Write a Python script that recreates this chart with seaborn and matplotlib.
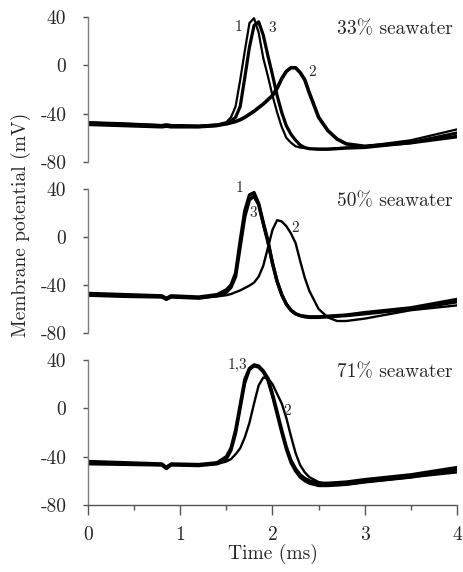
import numpy as np
import pandas as pd
import matplotlib
matplotlib.use("Agg")
import matplotlib.pyplot as plt
import seaborn as sns

# --- data: membrane potential traces (ms, mV) ---
time_ms = [0, 0.4, 0.8, 0.85, 0.9, 1.2, 1.4, 1.5, 1.55, 1.6, 1.65, 1.7, 1.75, 1.8,
           1.85, 1.9, 1.95, 2.0, 2.05, 2.1, 2.15, 2.2, 2.25, 2.3, 2.35, 2.4, 2.5,
           2.6, 2.7, 2.8, 3.0, 3.5, 4.0]

sw33_t1 = [-47, -48, -49.5, -49, -49.5, -50, -49, -47, -43, -34, -12, 12, 35, 39,
           27, 6, -9, -25, -39, -51, -60, -64, -67, -68, -68.5, -69, -69, -69,
           -68.5, -68, -67, -62, -53]
sw33_t2 = [-48, -49, -50, -49.5, -50, -50.5, -49.5, -48.5, -47.5, -46.5, -45, -43,
           -40.5, -38, -35, -32, -28.5, -25, -19, -11, -5, -2, -2, -6, -12, -23,
           -43, -54, -61, -65, -67, -64, -59]
sw33_t3 = [-49, -50, -51, -50.5, -51, -51, -50, -48, -46, -43, -34, -10, 15, 33,
           36, 25, 8, -8, -25, -39, -50, -57, -62, -66, -68, -69, -69.5, -69.5,
           -69, -68.5, -68, -64, -56]

sw50_t1 = [-47, -48, -49, -51, -49, -50, -48, -44, -40, -30, -3, 22, 35, 37, 28,
           12, -3, -22, -37, -48, -56, -61, -64, -65.5, -66, -66.5, -66.5, -66,
           -65.5, -65, -63, -59, -52]
sw50_t2 = [-48, -49, -50, -51.5, -50, -50.5, -49.5, -48.5, -47.5, -46, -44.5, -42.5,
           -40.5, -38, -33, -24, -9, 6, 14, 13, 9, 3, -5, -20, -34, -45, -60, -67,
           -70, -70, -68, -61, -57]
sw50_t3 = [-48.5, -49.5, -50, -52, -50, -51, -49, -46, -42, -33, -8, 17, 31, 34,
           27, 11, -4, -22, -37, -48, -56, -61, -64, -65.5, -66.5, -67, -67,
           -66.5, -66, -65.5, -64, -60, -54]

sw71_t1 = [-44, -45, -46, -49, -46, -46.5, -45, -40, -33, -18, 3, 24, 33, 36, 35,
           31, 25, 12, -3, -18, -32, -43, -50, -55, -58, -60, -62, -62, -61.5,
           -61, -59, -55, -49]
sw71_t2 = [-45, -46, -47, -48, -46.5, -47, -46, -44, -42, -38, -33, -24, -12, 4,
           19, 25.5, 25, 20, 12, 4, -8, -23, -37, -47, -53, -57, -61, -63, -63.5,
           -63, -61, -57, -53]
sw71_t3 = [-46, -46.5, -47, -50, -47, -47.5, -46, -42, -35, -21, 0, 21, 32, 35,
           34, 30, 23, 10, -5, -20, -34, -45, -52, -57, -60, -62, -64, -64, -63.5,
           -63, -61, -57, -51]

panel_names = ["33% seawater", "50% seawater", "71% seawater"]
panel_traces = [
    {"1": sw33_t1, "2": sw33_t2, "3": sw33_t3},
    {"1": sw50_t1, "2": sw50_t2, "3": sw50_t3},
    {"1": sw71_t1, "2": sw71_t2, "3": sw71_t3},
]
y_ticks = [-80, -40, 0, 40]
x_ticks = [0, 1, 2, 3, 4]

# trace line widths per panel and the number labels placed next to peaks
widths = [
    {"1": 1.6, "2": 2.6, "3": 2.3},
    {"1": 2.4, "2": 1.7, "3": 2.4},
    {"1": 2.4, "2": 1.7, "3": 2.2},
]
labels = [
    [("1", 1.63, 32), ("3", 2.0, 31), ("2", 2.43, -6)],
    [("1", 1.64, 41), ("3", 1.79, 20), ("2", 2.24, 7.5)],
    [("1,3", 1.62, 36), ("2", 2.16, -2)],
]

# --- style ---
sns.set_style("ticks")
plt.rcParams["font.family"] = ["cmr10", "DejaVu Serif"]
plt.rcParams["mathtext.fontset"] = "cm"
plt.rcParams["axes.unicode_minus"] = False
plt.rcParams["axes.formatter.use_mathtext"] = True

fig = plt.figure(figsize=(4.64, 5.72), dpi=100)
left, width = 88 / 464, (457 - 88) / 464
boxes = [(17, 162), (189, 333), (360, 505)]  # pixel top/bottom of each panel

axes = []
for i, (top, bot) in enumerate(boxes):
    ax = fig.add_axes([left, 1 - bot / 572, width, (bot - top) / 572])
    axes.append(ax)

    rows = []
    for name, vals in panel_traces[i].items():
        for t, v in zip(time_ms, vals):
            rows.append({"time": t, "mV": v, "trace": name})
    df = pd.DataFrame(rows)

    sns.lineplot(data=df, x="time", y="mV", hue="trace", size="trace",
                 palette={k: "black" for k in panel_traces[i]},
                 sizes=widths[i], estimator=None, sort=False,
                 legend=False, ax=ax)

    for txt, tx, ty in labels[i]:
        ax.text(tx, ty, txt, fontsize=11, ha="center", va="center")
    ax.text(0.989, 0.917, panel_names[i], transform=ax.transAxes,
            ha="right", va="center", fontsize=14)

    ax.set_xlim(0, 4)
    ax.set_ylim(-80, 40)
    ax.set_yticks(y_ticks)
    ax.set_yticklabels([str(v) for v in y_ticks])
    ax.set_ylabel("")
    ax.set_xlabel("")
    for side in ["top", "right"]:
        ax.spines[side].set_visible(False)
    ax.spines["left"].set_color("#7f7f7f")
    ax.spines["left"].set_linewidth(1.0)
    ax.tick_params(axis="y", length=3.6, width=1, color="#555555",
                   labelsize=14, pad=12)
    if i < 2:
        ax.spines["bottom"].set_visible(False)
        ax.set_xticks([])
    else:
        ax.spines["bottom"].set_color("#555555")
        ax.spines["bottom"].set_linewidth(1.0)
        ax.set_xticks(x_ticks)
        ax.set_xticklabels([str(v) for v in x_ticks])
        ax.set_xticks([0.5, 1.5, 2.5, 3.5], minor=True)
        ax.tick_params(axis="x", which="major", length=7.2, width=1,
                       color="#555555", labelsize=14, pad=8)
        ax.tick_params(axis="x", which="minor", length=3.6, width=1,
                       color="#555555")
        ax.set_xlabel("Time (ms)", fontsize=14, labelpad=0)

fig.text(21 / 464, 1 - 225 / 572, "Membrane potential (mV)", rotation=90,
         ha="center", va="center", fontsize=14)

fig.savefig("out.png", dpi=100)
